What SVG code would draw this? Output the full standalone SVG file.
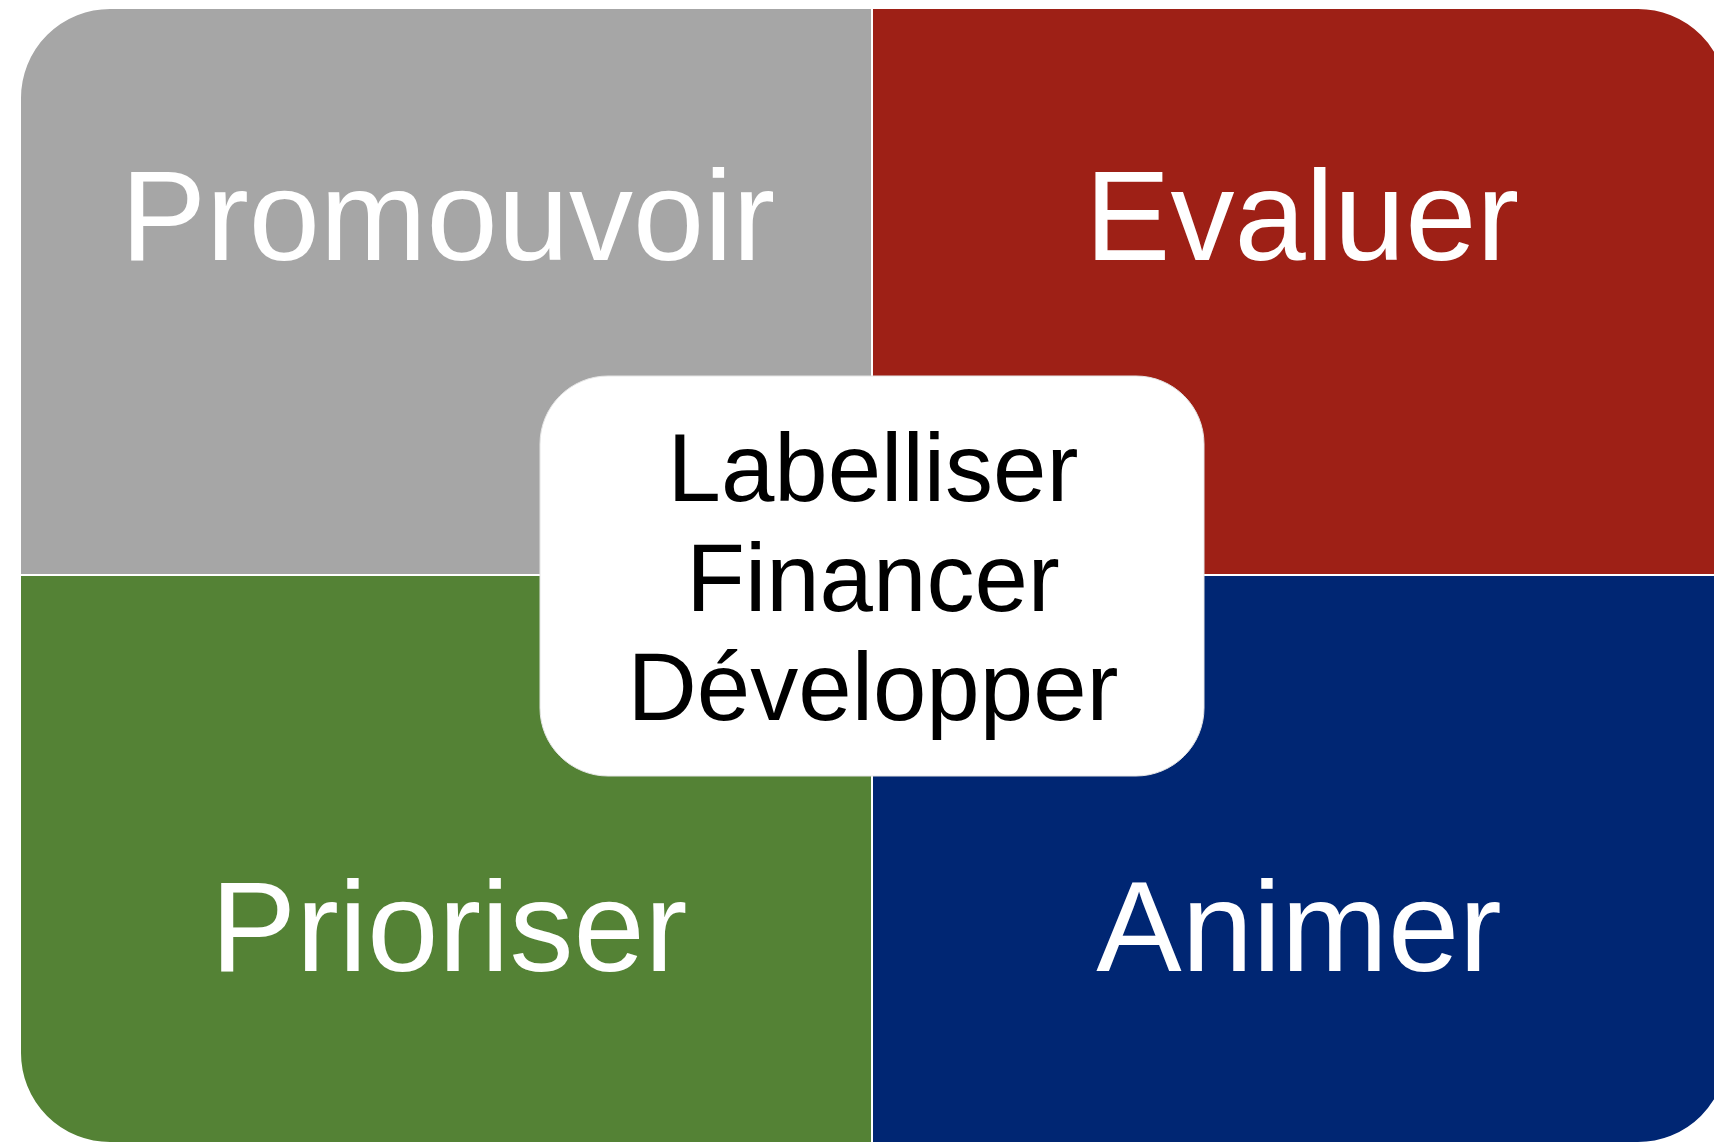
<svg xmlns="http://www.w3.org/2000/svg" width="1714" height="1142" viewBox="0 0 1714 1142">
<style>
.q{stroke:#ffffff;stroke-width:2}
.big{font-family:"Liberation Sans",Arial,sans-serif;font-size:128px;fill:#ffffff;text-anchor:middle}
.mid{font-family:"Liberation Sans",Arial,sans-serif;font-size:96px;fill:#000000;text-anchor:middle}
</style>
<rect width="1714" height="1142" fill="#ffffff"/>
<g id="promouvoir">
<path class="q" fill="#A6A6A6" d="M20,98 A90,90 0 0 1 110,8 L872,8 L872,575 L20,575 Z"/>
<text class="big" x="448" y="260">Promouvoir</text>
</g>
<g id="evaluer">
<path class="q" fill="#9E2016" d="M872,8 L1638,8 A90,90 0 0 1 1728,98 L1728,575 L872,575 Z"/>
<text class="big" x="1302" y="260">Evaluer</text>
</g>
<g id="prioriser">
<path class="q" fill="#548235" d="M20,575 L872,575 L872,1143 L110,1143 A90,90 0 0 1 20,1053 Z"/>
<text class="big" x="449" y="971">Prioriser</text>
</g>
<g id="animer">
<path class="q" fill="#002673" d="M872,575 L1728,575 L1728,1053 A90,90 0 0 1 1638,1143 L872,1143 Z"/>
<text class="big" x="1299" y="971">Animer</text>
</g>
<g id="centre">
<rect x="540" y="376" width="664" height="400" rx="68" ry="68" fill="#ffffff" stroke="#e6e6e6" stroke-width="1"/>
<text class="mid" x="873" y="501">Labelliser</text>
<text class="mid" x="873" y="611">Financer</text>
<text class="mid" x="873" y="720">Développer</text>
</g>
<g id="connectors"></g>
</svg>
